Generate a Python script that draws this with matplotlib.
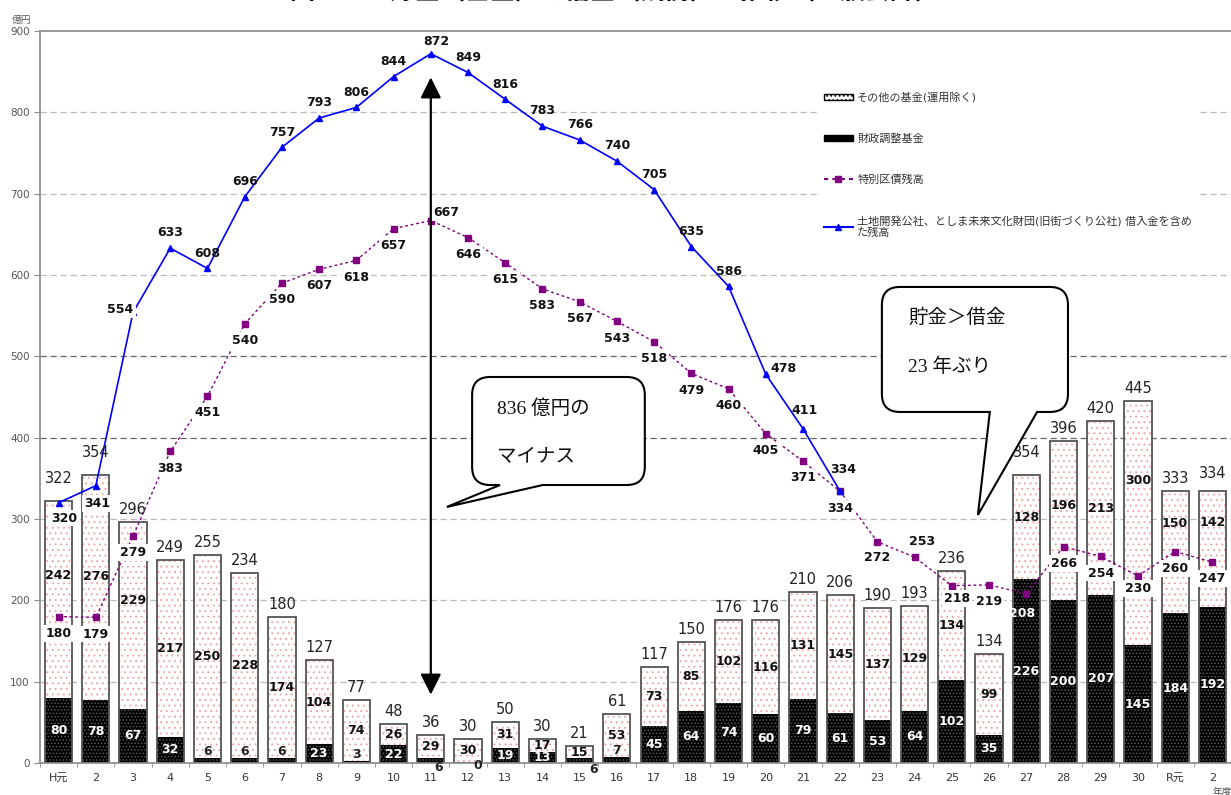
import numpy as np
import matplotlib
matplotlib.use("Agg")
import matplotlib.pyplot as plt
from matplotlib.path import Path
from matplotlib.patches import PathPatch, Patch
from matplotlib.lines import Line2D

plt.rcParams['font.family'] = ['DejaVu Sans', 'Noto Sans CJK JP']
plt.rcParams['hatch.linewidth'] = 0.7

# data (億円)
years = ['H元', '2', '3', '4', '5', '6', '7', '8', '9', '10', '11', '12', '13', '14', '15', '16',
         '17', '18', '19', '20', '21', '22', '23', '24', '25', '26', '27', '28', '29', '30', 'R元', '2']
adjust_fund = [80, 78, 67, 32, 6, 6, 6, 23, 3, 22, 6, 0, 19, 13, 6, 7,
               45, 64, 74, 60, 79, 61, 53, 64, 102, 35, 226, 200, 207, 145, 184, 192]
other_fund = [242, 276, 229, 217, 250, 228, 174, 104, 74, 26, 29, 30, 31, 17, 15, 53,
              73, 85, 102, 116, 131, 145, 137, 129, 134, 99, 128, 196, 213, 300, 150, 142]
fund_total = [322, 354, 296, 249, 255, 234, 180, 127, 77, 48, 36, 30, 50, 30, 21, 61,
              117, 150, 176, 176, 210, 206, 190, 193, 236, 134, 354, 396, 420, 445, 333, 334]
bond_balance = [180, 179, 279, 383, 451, 540, 590, 607, 618, 657, 667, 646, 615, 583, 567, 543,
                518, 479, 460, 405, 371, 334, 272, 253, 218, 219, 208, 266, 254, 230, 260, 247]
debt_incl_corp = [320, 341, 554, 633, 608, 696, 757, 793, 806, 844, 872, 849, 816, 783, 766, 740,
                  705, 635, 586, 478, 411, 334]

x = np.arange(len(years))
xb = np.arange(len(debt_incl_corp))

fig = plt.figure(figsize=(12.31, 7.95), dpi=100)
ax = fig.add_axes([40 / 1231, 32 / 795, 1191 / 1231, 732 / 795])
ax.set_xlim(-0.5, len(years) - 0.5)
ax.set_ylim(0, 900)

# grid
for v in range(100, 900, 100):
    c = '#666666' if v in (400, 500) else '#bbbbbb'
    ax.axhline(v, color=c, lw=0.9, ls=(0, (5, 3)), zorder=0)

# bars
w = 0.73
ax.bar(x, adjust_fund, w, color='black', edgecolor='#5a5a5a', hatch='.....', lw=0, zorder=2)
ax.bar(x, other_fund, w, bottom=adjust_fund, color='white', edgecolor='#eba8a8',
       hatch='...', lw=0, zorder=2)
ax.bar(x, np.array(adjust_fund) + np.array(other_fund), w, fill=False,
       edgecolor='#555555', lw=1.3, zorder=2.5)

# lines
ax.plot(x, bond_balance, color='#800080', lw=1.0, ls=(0, (2, 2)), marker='s', ms=5,
        mfc='#800080', mec='#800080', zorder=3)
ax.plot(xb, debt_incl_corp, color='#0000ff', lw=1.2, marker='^', ms=5, zorder=3.1)

bold9 = dict(fontsize=9, fontweight='bold', ha='center', va='center')

# segment labels
black_special = {10: (0.22, -6), 11: (0.25, -3), 14: (0.37, -8)}
for i, v in enumerate(adjust_fund):
    if i in black_special:
        dx, yy = black_special[i]
        ax.text(i + dx, yy, str(v), color='#222222', zorder=4, clip_on=False, **bold9)
    elif v < 10:
        ax.text(i, v + 8, str(v), color='#222222', zorder=4, **bold9)
    else:
        ax.text(i, v / 2, str(v), color='white', zorder=4, **bold9)

other_nudge = {0: 29, 1: 13, 2: 18, 26: 12, 27: 19, 29: 52, 30: 36, 31: 33}
for i, v in enumerate(other_fund):
    y = adjust_fund[i] + v / 2 + other_nudge.get(i, 0)
    ax.text(i, y, str(v), color='#111111', zorder=4, **bold9)

total_nudge = {0: 7, 1: 7, 26: 7, 31: 4}
for i, v in enumerate(fund_total):
    ax.annotate(str(v), (i, adjust_fund[i] + other_fund[i]), xytext=(0, 9 + total_nudge.get(i, 0)),
                textcoords='offset points', ha='center', va='center', fontsize=10.5,
                color='#222222', zorder=4)

# line labels
wbox = dict(boxstyle='square,pad=0.15', fc='white', ec='none')
blue_off = {0: (4, -11), 1: (1, -13), 2: (-9, 2), 10: (4, 9), 19: (13, 4), 20: (1, 13), 21: (2, 16)}
for i, v in enumerate(debt_incl_corp):
    dx, dy = blue_off.get(i, (0, 11))
    ax.annotate(str(v), (i, v), xytext=(dx, dy), textcoords='offset points', color='#111111',
                bbox=wbox if i < 3 else None, zorder=4.5, **bold9)

purple_off = {10: (11, 6), 22: (0, -11), 23: (5, 11), 24: (4, -9), 26: (-3, -14), 29: (0, -9)}
for i, v in enumerate(bond_balance):
    dx, dy = purple_off.get(i, (0, -12))
    if i == 26:
        ax.annotate(str(v), (i, v), xytext=(dx, dy), textcoords='offset points', color='white',
                    zorder=4.5, **bold9)
    else:
        ax.annotate(str(v), (i, v), xytext=(dx, dy), textcoords='offset points', color='#111111',
                    bbox=wbox, zorder=4.5, **bold9)

# double arrow: 872 - 36 = 836
ax.annotate('', xy=(10, 843), xytext=(10, 84),
            arrowprops=dict(arrowstyle='<|-|>,head_length=0.9,head_width=0.45', color='black',
                            lw=1.6, mutation_scale=14, shrinkA=0, shrinkB=0), zorder=5)


def callout(left, bottom, right, top, b1, b2, tip, r=18):
    rx = r / 37.22
    ry = r / 0.8133
    L, B, R, T = left, bottom, right, top
    verts = [(L + rx, T), (R - rx, T), (R, T), (R, T - ry), (R, B + ry), (R, B), (R - rx, B),
             (b2, B), tip, (b1, B), (L + rx, B), (L, B), (L, B + ry), (L, T - ry), (L, T),
             (L + rx, T), (L + rx, T)]
    codes = [Path.MOVETO, Path.LINETO, Path.CURVE3, Path.CURVE3, Path.LINETO, Path.CURVE3,
             Path.CURVE3, Path.LINETO, Path.LINETO, Path.LINETO, Path.LINETO, Path.CURVE3,
             Path.CURVE3, Path.LINETO, Path.CURVE3, Path.CURVE3, Path.CLOSEPOLY]
    ax.add_patch(PathPatch(Path(verts, codes), fc='white', ec='black', lw=1.5, zorder=6))


callout(11.11, 341.8, 15.75, 474.6, 11.86, 13.01, (10.43, 314.8))
callout(22.12, 431.6, 27.12, 585.3, 25.02, 26.29, (24.7, 305))
ser = dict(fontsize=14, family=['Liberation Serif', 'Noto Sans CJK JP'], color='#111111',
           ha='left', va='center', zorder=7)
ax.text(11.78, 436, '836 億円の', **ser)
ax.text(11.78, 376, 'マイナス', **ser)
ax.text(22.82, 547, '貯金＞借金', **ser)
ax.text(22.82, 487, '23 年ぶり', **ser)

# axes styling
for s in ['left', 'bottom', 'top']:
    ax.spines[s].set_color('#888888')
    ax.spines[s].set_linewidth(1.2)
ax.spines['right'].set_visible(False)
ax.set_yticks(range(0, 901, 100))
ax.tick_params(axis='y', labelsize=7.5, labelcolor='#555555', color='#888888', length=4)
ax.set_xticks(x)
ax.set_xticklabels(years)
ax.set_xticks(np.arange(-0.5, len(years), 1), minor=True)
ax.tick_params(axis='x', which='major', length=0, labelsize=8, labelcolor='#333333', pad=7)
ax.tick_params(axis='x', which='minor', length=3, color='#888888')
fig.text(22 / 1231, 1 - 20 / 795, '億円', fontsize=7, color='#555555', ha='center', va='center')
fig.text(1222 / 1231, 1 - 792 / 795, '年度', fontsize=7, color='#555555', ha='center', va='center')
fig.text(0.5, 1 + 8 / 795, '図　　　貯金（基金）と借金（残高）の推移（一般会計）', fontsize=18,
         fontweight='bold', ha='center', va='center')

# legend
handles = [Patch(facecolor='white', edgecolor='black', hatch='....'),
           Patch(facecolor='black', edgecolor='black'),
           Line2D([], [], color='#800080', ls=(0, (2, 2)), marker='s', ms=5),
           Line2D([], [], color='#0000ff', marker='^', ms=5)]
labels = ['その他の基金(運用除く)', '財政調整基金', '特別区債残高',
          '土地開発公社、としま未来文化財団(旧街づくり公社) 借入金を含め\nた残高']
leg = ax.legend(handles, labels, loc='upper left', bbox_to_anchor=(0.648, 0.933), fontsize=8,
                labelspacing=2.75, handlelength=2.6, handleheight=0.5, handletextpad=0.4,
                frameon=True, facecolor='white', edgecolor='none', framealpha=1, borderpad=0.6)
leg.set_zorder(8)
for t in leg.get_texts():
    t.set_color('#333333')

fig.savefig('out.png', dpi=100)
